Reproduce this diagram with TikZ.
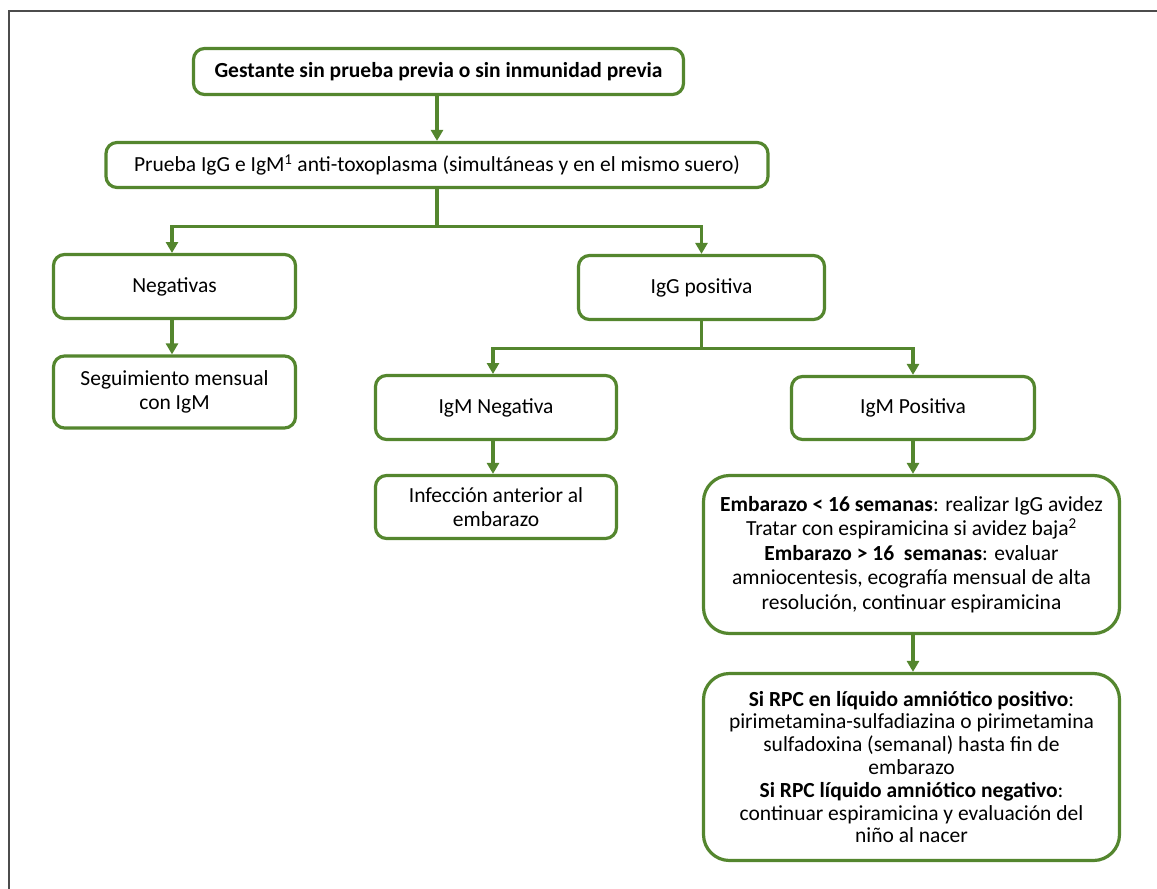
\documentclass[tikz,border=0pt]{standalone}
\usepackage{fontspec}
\setmainfont{Carlito}
\usetikzlibrary{arrows.meta}
\definecolor{leaf}{RGB}{84,134,46}
\begin{document}
\begin{tikzpicture}[x=1pt,y=-1pt,
  box/.style={draw=leaf, line width=3.2pt, rounded corners=11pt, fill=white,
    align=center, inner sep=0pt, text=black,
    font=\fontsize{21.5}{24.5}\selectfont},
  bigbox/.style={box, rounded corners=26pt},
  link/.style={draw=leaf, line width=3.2pt, -{Triangle[length=11pt,width=12pt]}},
  plain/.style={draw=leaf, line width=3.2pt}]
\useasboundingbox (0,0) rectangle (1157,889);
% frame
\draw[line width=2pt, black!70] (9,889) -- (9,10.5) -- (1157,10.5);

% boxes
\node[box, minimum width=490pt, minimum height=46pt] (top) at (438.5,71.5)
  {\bfseries Gestante sin prueba previa o sin inmunidad previa};
\node[box, minimum width=662pt, minimum height=45pt] (test) at (437,165)
  {Prueba IgG e IgM\textsuperscript{1} anti-toxoplasma (simultáneas y en el mismo suero)};
\node[box, minimum width=242pt, minimum height=64pt] (neg) at (174.5,286.5) {Negativas};
\node[box, minimum width=242pt, minimum height=72pt] (seg) at (174.5,392)
  {Seguimiento mensual\\con IgM};
\node[box, minimum width=246pt, minimum height=64pt] (igg) at (701.5,287.5) {IgG positiva};
\node[box, minimum width=241pt, minimum height=64pt] (igmn) at (496,407.5) {IgM Negativa};
\node[box, minimum width=241pt, minimum height=63pt] (inf) at (496,507)
  {Infección anterior al\\embarazo};
\node[box, minimum width=243pt, minimum height=63pt] (igmp) at (913,408) {IgM Positiva};
\node[bigbox, minimum width=416pt, minimum height=158pt] (early) at (911.5,554.5)
  {\textbf{Embarazo < 16 semanas}: realizar IgG avidez\\
   Tratar con espiramicina si avidez baja\textsuperscript{2}\\
   \textbf{Embarazo > 16 \ semanas}: evaluar\\
   amniocentesis, ecografía mensual de alta\\
   resolución, continuar espiramicina};
\node[bigbox, minimum width=416pt, minimum height=187pt,
      font=\fontsize{21.5}{22.8}\selectfont] (rpc) at (911.5,767)
  {\textbf{Si RPC en líquido amniótico positivo}:\\
   pirimetamina-sulfadiazina o pirimetamina\\
   sulfadoxina (semanal) hasta fin de\\
   embarazo\\
   \textbf{Si RPC líquido amniótico negativo}:\\
   continuar espiramicina y evaluación del\\
   niño al nacer};

% connectors
\draw[link] (top.south -| test.south) -- (test.north);
\draw[plain] (test.south) -- ++(0,37) coordinate (split1);
\draw[link] (split1) -| (172,253);
\draw[link] (split1) -| (igg.north);
\draw[link] (neg.south -| 172,0) -- (seg.north -| 172,0);
\draw[plain] (igg.south) -- ++(0,27) coordinate (split2);
\draw[link] (split2) -| (493,374);
\draw[link] (split2) -| (igmp.north);
\draw[link] (igmn.south -| 493,0) -- (inf.north -| 493,0);
\draw[link] (igmp.south) -- (early.north -| igmp.south);
\draw[link] (early.south -| igmp.south) -- (rpc.north -| igmp.south);
\end{tikzpicture}
\end{document}
